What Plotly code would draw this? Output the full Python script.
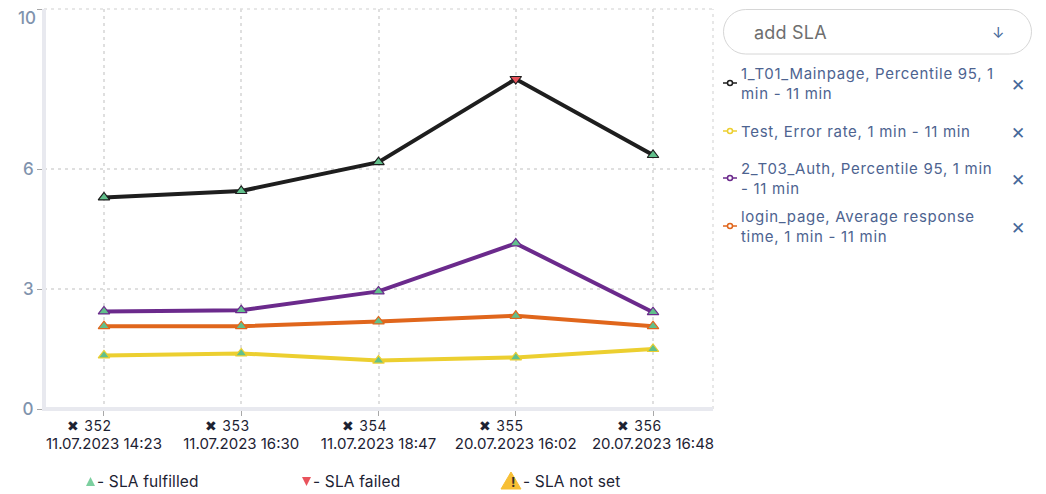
import math

import plotly.graph_objects as go

# values
builds = ["352", "353", "354", "355", "356"]
dates = ["11.07.2023 14:23", "11.07.2023 16:30", "11.07.2023 18:47", "20.07.2023 16:02", "20.07.2023 16:48"]
y_ticks = [0, 3, 6, 10]
y_tick_text = ["0", "3", "6", ""]

mainpage = [5.29, 5.45, 6.17, 8.25, 6.35]
error_rate = [1.34, 1.39, 1.21, 1.29, 1.50]
auth = [2.44, 2.47, 2.94, 4.14, 2.42]
login = [2.07, 2.07, 2.19, 2.33, 2.07]

mainpage_failed = [False, False, False, True, False]
no_failures = [False, False, False, False, False]

names = [
    "1_T01_Mainpage, Percentile 95, 1<br>min - 11 min",
    "Test, Error rate, 1 min - 11 min",
    "2_T03_Auth, Percentile 95, 1 min<br>- 11 min",
    "login_page, Average response<br>time, 1 min - 11 min",
]
colors = ["#1e1e1e", "#eccf30", "#6b2a8c", "#e0661c"]
series = [mainpage, error_rate, auth, login]
failed = [mainpage_failed, no_failures, no_failures, no_failures]

FONT = "Inter, 'Open Sans', sans-serif"
GREEN = "#62c08c"
RED = "#e9535c"
GRID = "#dfdfdf"
AXIS = "#e8e9ef"
W, H = 1046, 494
L, R, T, B = 44, 713, 9, 409


def px(x):
    return (x - L) / (R - L)


def py(y):
    return (B - y) / (B - T)


def spaced(text, amount):
    return "<br>".join(f"<span style='letter-spacing:{amount}px'>{part}</span>" for part in text.split("<br>"))


def scale_path(coords):
    return "M " + " L ".join(f"{px(x):.5f} {py(y):.5f}" for x, y in coords) + " Z"


def pill_path(x0, x1, y0, y1):
    r = (y1 - y0) / 2
    mid = (y0 + y1) / 2
    pts = []
    for a in range(-90, 91, 10):
        pts.append((x1 - r + r * math.cos(math.radians(a)), mid + r * math.sin(math.radians(a))))
    for a in range(90, 271, 10):
        pts.append((x0 + r + r * math.cos(math.radians(a)), mid + r * math.sin(math.radians(a))))
    return scale_path(pts)


def paper_shape(**kw):
    return dict(xref="paper", yref="paper", **kw)


fig = go.Figure()
# draw order in the picture: black, purple, orange, yellow on top
for i in [0, 2, 3, 1]:
    fig.add_trace(go.Scatter(
        x=builds,
        y=series[i],
        mode="lines+markers",
        name=names[i].replace("<br>", " "),
        showlegend=False,
        line=dict(color=colors[i], width=4),
        marker=dict(
            symbol=["triangle-down" if f else "triangle-up" for f in failed[i]],
            size=10,
            color=[RED if f else GREEN for f in failed[i]],
            line=dict(color=colors[i], width=1.2),
        ),
    ))

fig.update_layout(
    width=W,
    height=H,
    margin=dict(l=L, r=W - R, t=T, b=H - B),
    plot_bgcolor="white",
    paper_bgcolor="white",
    font=dict(family=FONT, size=15, color="#1d2233"),
    showlegend=False,
    xaxis=dict(
        type="category",
        range=[-0.437, 4.437],
        tickmode="array",
        tickvals=builds,
        ticktext=dates,
        showgrid=True,
        gridcolor=GRID,
        griddash="3px,4px",
        gridwidth=1.5,
        showline=False,
        ticks="outside",
        ticklen=6,
        tickcolor="#a8a8a8",
        tickwidth=1,
        ticklabelstandoff=15,
        tickfont=dict(size=15, color="#1d2233"),
        zeroline=False,
    ),
    yaxis=dict(
        range=[0, 10],
        tickmode="array",
        tickvals=y_ticks,
        ticktext=y_tick_text,
        showgrid=True,
        gridcolor=GRID,
        griddash="3px,4px",
        gridwidth=1.5,
        showline=False,
        ticks="outside",
        ticklen=6,
        tickcolor="#a8a8a8",
        tickwidth=1,
        tickfont=dict(size=17, color="#7f93ad", weight=500),
        zeroline=False,
    ),
)

shapes = [
    # edges of the grid that have no tick of their own
    paper_shape(type="line", x0=0, x1=1, y0=1, y1=1, line=dict(color=GRID, width=1.5, dash="3px,4px")),
    paper_shape(type="line", x0=1, x1=1, y0=0, y1=1, line=dict(color=GRID, width=1.5, dash="3px,4px")),
    # thick axis bars sit over the start of the ticks
    paper_shape(type="rect", x0=px(42), x1=px(46), y0=py(411), y1=1, line=dict(width=0), fillcolor=AXIS, layer="above"),
    paper_shape(type="rect", x0=px(42), x1=1, y0=py(411), y1=py(407), line=dict(width=0), fillcolor=AXIS, layer="above"),
    # add SLA box
    paper_shape(type="path", path=pill_path(723.5, 1031.5, 9.5, 54), line=dict(color="#d6d6d6", width=1), fillcolor="white"),
]

annotations = [
    dict(x=px(752), y=py(32), text=spaced("add SLA", 0.2), font=dict(size=18, color="#6e6e6e")),
    dict(x=px(990), y=py(32), text="↓", font=dict(size=15, color="#46689a")),
]

key_rows = [83, 131, 178, 226]
text_rows = [83.5, 131, 178.5, 226.5]
for name, color, ky, ty in zip(names, colors, key_rows, text_rows):
    shapes.append(paper_shape(type="line", x0=px(723), x1=px(737), y0=py(ky), y1=py(ky),
                              line=dict(color=color, width=1.5)))
    shapes.append(paper_shape(type="circle", x0=px(727.5), x1=px(732.5), y0=py(ky - 2.5), y1=py(ky + 2.5),
                              line=dict(color=color, width=1.5), fillcolor="white"))
    annotations.append(dict(x=px(739), y=py(ty), text=spaced(name, 0.7), align="left",
                            font=dict(size=15, color="#4d6390")))
    annotations.append(dict(x=px(1009), y=py(ky + 2), text="✕", font=dict(size=17, color="#46689a", family="DejaVu Sans")))

# status key under the chart
shapes.append(paper_shape(type="path", path=scale_path([(86, 486), (95, 486), (90.5, 477)]),
                          line=dict(width=0), fillcolor="#7ccf9f"))
shapes.append(paper_shape(type="path", path=scale_path([(302, 477), (311, 477), (306.5, 486)]),
                          line=dict(width=0), fillcolor=RED))
shapes.append(paper_shape(type="path", path=scale_path([(501, 489), (521, 489), (511, 472)]),
                          line=dict(color="#f7bf35", width=1), fillcolor="#f7bf35"))
annotations += [
    dict(x=px(95), y=py(481.5), text=spaced("- SLA fulfilled", 0.15), font=dict(size=15.5, color="#1d2233")),
    dict(x=px(311), y=py(481.5), text=spaced("- SLA failed", 0.15), font=dict(size=15.5, color="#1d2233")),
    dict(x=px(521), y=py(481.5), text=spaced("- SLA not set", 0.15), font=dict(size=15.5, color="#1d2233")),
    dict(x=px(508.5), y=py(482), text="<b>!</b>", font=dict(size=13, color="#33302a")),
]

for a in annotations:
    a.update(xref="paper", yref="paper", showarrow=False, xanchor="left", yanchor="middle")

# the 10 sits below its tick so it stays on the page
annotations.append(dict(x=px(38), y=py(18), text="10", xref="paper", yref="paper", showarrow=False, xanchor="right",
                        yanchor="middle", font=dict(size=17, color="#7f93ad", weight=500)))

# build numbers above the dates; numeric looking categories need their index here
for idx, b in enumerate(builds):
    annotations.append(dict(x=idx, y=py(425), xref="x", yref="paper", xshift=-14, showarrow=False, xanchor="center",
                            yanchor="middle", text=spaced(f"✖ {b}", 0.6),
                            font=dict(size=14, color="#1d2233")))

fig.update_layout(shapes=shapes, annotations=annotations)

fig.write_html("out.html", config={"displayModeBar": False},
               post_script="document.body.style.margin='0';document.body.style.overflow='hidden';")
